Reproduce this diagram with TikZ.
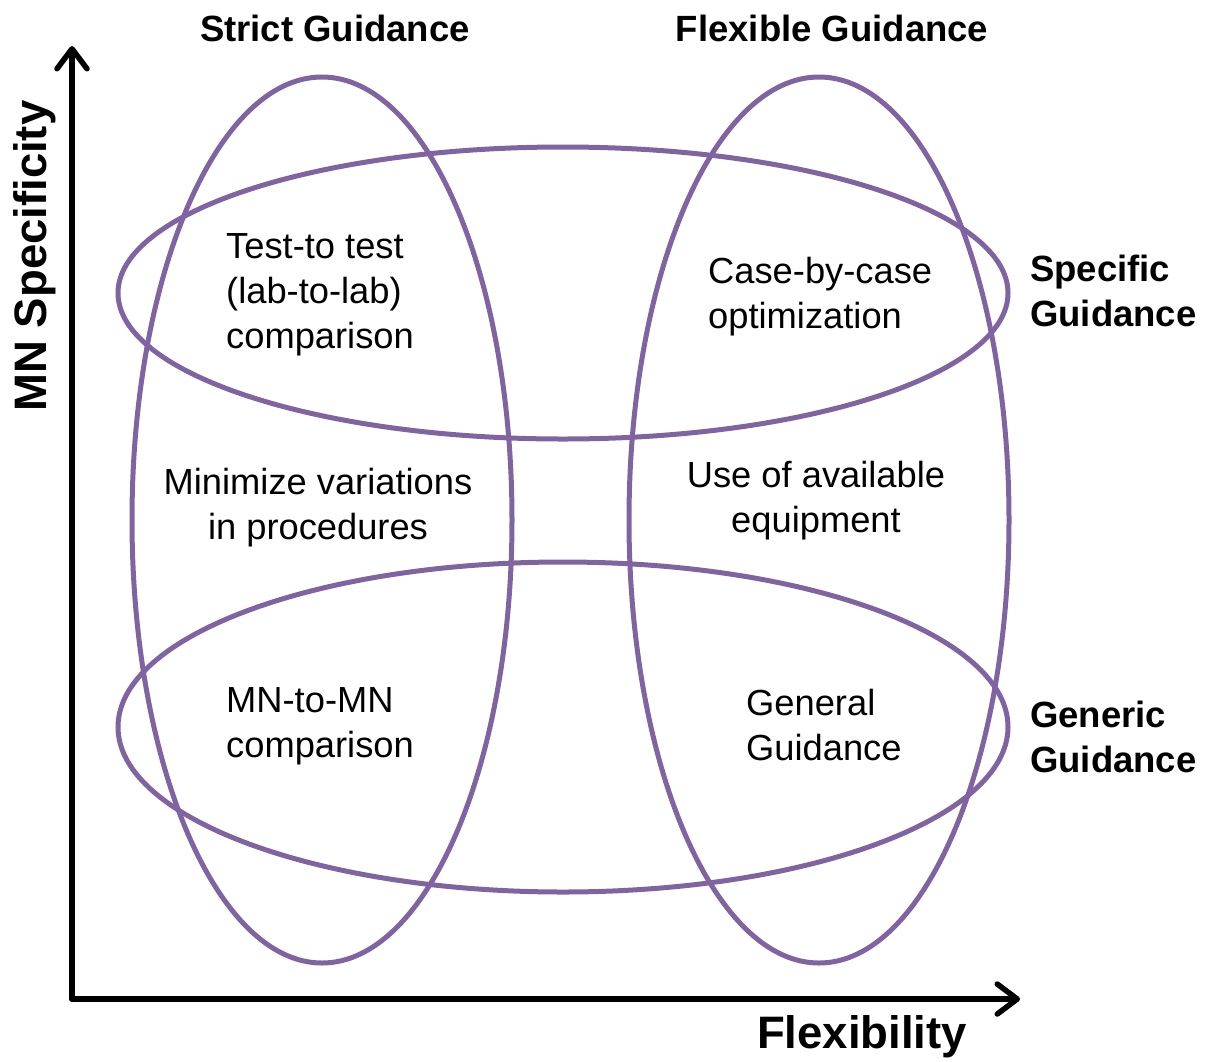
\documentclass[tikz,border=0pt]{standalone}
\usepackage{fontspec}
\setmainfont{Liberation Sans}
\usetikzlibrary{arrows.meta}
\definecolor{ringpurple}{HTML}{8064A2}
\begin{document}
\begin{tikzpicture}[x=1pt,y=-1pt,
  ring/.style={draw=ringpurple,line width=5pt},
  axis/.style={line width=5.5pt,line cap=round,-{Straight Barb[length=20pt,width=30pt,round]}},
  body/.style={inner sep=0pt,font=\fontsize{36.3}{45}\selectfont},
  head/.style={inner sep=0pt,font=\fontsize{36.5}{45}\selectfont\bfseries},
  axislabel/.style={inner sep=0pt,font=\fontsize{45.5}{50}\selectfont\bfseries}]
  \useasboundingbox (0,0) rectangle (1210,1061);

  % four overlapping rings
  \draw[ring] (322,520) ellipse [x radius=190, y radius=443];
  \draw[ring] (819,520) ellipse [x radius=190, y radius=443];
  \draw[ring] (563,293) ellipse [x radius=445, y radius=146];
  \draw[ring] (563,727) ellipse [x radius=445, y radius=165];

  % axes
  \coordinate (origin) at (72,999);
  \coordinate (ytip) at (72,46);
  \coordinate (xtip) at (1020,999);
  \draw[axis] (origin) -- (ytip);
  \draw[axis] (origin) -- (xtip);

  % axis titles
  \node[axislabel,rotate=90] (ylab) at (35,256) {MN Specificity};
  \node[axislabel] (xlab) at (862,1037) {Flexibility};

  % column and row headings
  \node[head] (strict) at (335,28) {Strict Guidance};
  \node[head] (flex) at (832,28) {Flexible Guidance};
  \node[head,anchor=west,align=left] (specific) at (1030,291) {Specific\\Guidance};
  \node[head,anchor=west,align=left] (generic) at (1030,737) {Generic\\Guidance};

  % cell texts
  \node[body,anchor=west,align=left] (t1) at (226,295) {Test-to test\\(lab-to-lab)\\comparison};
  \node[body,anchor=west,align=left] (t2) at (708,297) {Case-by-case\\optimization};
  \node[body,align=center] (t3) at (318,508) {Minimize variations\\in procedures};
  \node[body,align=center] (t4) at (816,501) {Use of available\\equipment};
  \node[body,anchor=west,align=left] (t5) at (226,726) {MN-to-MN\\comparison};
  \node[body,anchor=west,align=left] (t6) at (746,725) {General\\Guidance};
\end{tikzpicture}
\end{document}
